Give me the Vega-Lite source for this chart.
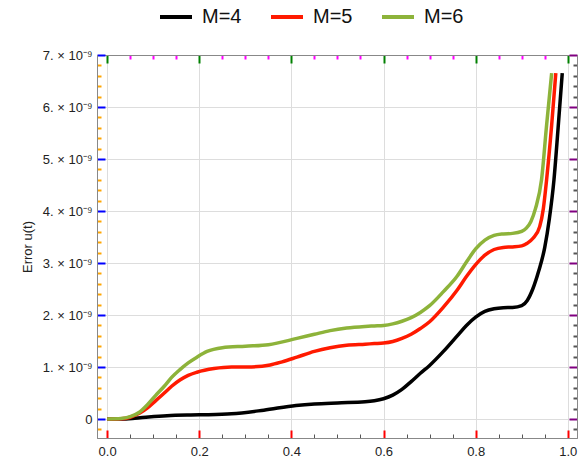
{
  "$schema": "https://vega.github.io/schema/vega-lite/v6.json",
  "autosize": "none",
  "width": 480,
  "height": 383,
  "padding": {"left": 97, "top": 55, "right": 4, "bottom": 24},
  "background": "white",
  "data": {"values": [
    {"M": "M=4", "t": 0.0, "v": 0},
    {"M": "M=4", "t": 0.03, "v": 0.0},
    {"M": "M=4", "t": 0.06, "v": 0.015e-9},
    {"M": "M=4", "t": 0.09, "v": 0.04e-9},
    {"M": "M=4", "t": 0.13, "v": 0.065e-9},
    {"M": "M=4", "t": 0.2, "v": 0.08e-9},
    {"M": "M=4", "t": 0.27, "v": 0.1e-9},
    {"M": "M=4", "t": 0.34, "v": 0.17e-9},
    {"M": "M=4", "t": 0.41, "v": 0.26e-9},
    {"M": "M=4", "t": 0.45, "v": 0.29e-9},
    {"M": "M=4", "t": 0.5, "v": 0.31e-9},
    {"M": "M=4", "t": 0.56, "v": 0.33e-9},
    {"M": "M=4", "t": 0.58, "v": 0.35e-9},
    {"M": "M=4", "t": 0.6, "v": 0.39e-9},
    {"M": "M=4", "t": 0.62, "v": 0.46e-9},
    {"M": "M=4", "t": 0.64, "v": 0.57e-9},
    {"M": "M=4", "t": 0.66, "v": 0.72e-9},
    {"M": "M=4", "t": 0.68, "v": 0.88e-9},
    {"M": "M=4", "t": 0.7, "v": 1.03e-9},
    {"M": "M=4", "t": 0.73, "v": 1.3e-9},
    {"M": "M=4", "t": 0.76, "v": 1.6e-9},
    {"M": "M=4", "t": 0.78, "v": 1.8e-9},
    {"M": "M=4", "t": 0.8, "v": 1.96e-9},
    {"M": "M=4", "t": 0.82, "v": 2.07e-9},
    {"M": "M=4", "t": 0.84, "v": 2.12e-9},
    {"M": "M=4", "t": 0.86, "v": 2.14e-9},
    {"M": "M=4", "t": 0.88, "v": 2.145e-9},
    {"M": "M=4", "t": 0.9, "v": 2.18e-9},
    {"M": "M=4", "t": 0.912, "v": 2.28e-9},
    {"M": "M=4", "t": 0.924, "v": 2.5e-9},
    {"M": "M=4", "t": 0.937, "v": 2.85e-9},
    {"M": "M=4", "t": 0.95, "v": 3.3e-9},
    {"M": "M=4", "t": 0.96, "v": 3.85e-9},
    {"M": "M=4", "t": 0.97, "v": 4.6e-9},
    {"M": "M=4", "t": 0.979, "v": 5.6e-9},
    {"M": "M=4", "t": 0.988, "v": 6.65e-9},
    {"M": "M=5", "t": 0.0, "v": 0},
    {"M": "M=5", "t": 0.03, "v": 0.005e-9},
    {"M": "M=5", "t": 0.05, "v": 0.035e-9},
    {"M": "M=5", "t": 0.07, "v": 0.11e-9},
    {"M": "M=5", "t": 0.087, "v": 0.21e-9},
    {"M": "M=5", "t": 0.105, "v": 0.35e-9},
    {"M": "M=5", "t": 0.124, "v": 0.5e-9},
    {"M": "M=5", "t": 0.14, "v": 0.63e-9},
    {"M": "M=5", "t": 0.158, "v": 0.75e-9},
    {"M": "M=5", "t": 0.176, "v": 0.84e-9},
    {"M": "M=5", "t": 0.195, "v": 0.9e-9},
    {"M": "M=5", "t": 0.232, "v": 0.97e-9},
    {"M": "M=5", "t": 0.27, "v": 1.0e-9},
    {"M": "M=5", "t": 0.304, "v": 1.0e-9},
    {"M": "M=5", "t": 0.354, "v": 1.04e-9},
    {"M": "M=5", "t": 0.38, "v": 1.1e-9},
    {"M": "M=5", "t": 0.412, "v": 1.19e-9},
    {"M": "M=5", "t": 0.45, "v": 1.3e-9},
    {"M": "M=5", "t": 0.484, "v": 1.37e-9},
    {"M": "M=5", "t": 0.52, "v": 1.42e-9},
    {"M": "M=5", "t": 0.56, "v": 1.44e-9},
    {"M": "M=5", "t": 0.58, "v": 1.45e-9},
    {"M": "M=5", "t": 0.6, "v": 1.46e-9},
    {"M": "M=5", "t": 0.62, "v": 1.49e-9},
    {"M": "M=5", "t": 0.64, "v": 1.55e-9},
    {"M": "M=5", "t": 0.66, "v": 1.63e-9},
    {"M": "M=5", "t": 0.68, "v": 1.74e-9},
    {"M": "M=5", "t": 0.7, "v": 1.87e-9},
    {"M": "M=5", "t": 0.73, "v": 2.15e-9},
    {"M": "M=5", "t": 0.76, "v": 2.48e-9},
    {"M": "M=5", "t": 0.78, "v": 2.74e-9},
    {"M": "M=5", "t": 0.8, "v": 2.97e-9},
    {"M": "M=5", "t": 0.82, "v": 3.15e-9},
    {"M": "M=5", "t": 0.84, "v": 3.26e-9},
    {"M": "M=5", "t": 0.86, "v": 3.3e-9},
    {"M": "M=5", "t": 0.88, "v": 3.31e-9},
    {"M": "M=5", "t": 0.9, "v": 3.33e-9},
    {"M": "M=5", "t": 0.912, "v": 3.38e-9},
    {"M": "M=5", "t": 0.925, "v": 3.48e-9},
    {"M": "M=5", "t": 0.939, "v": 3.7e-9},
    {"M": "M=5", "t": 0.947, "v": 4.05e-9},
    {"M": "M=5", "t": 0.954, "v": 4.6e-9},
    {"M": "M=5", "t": 0.965, "v": 5.65e-9},
    {"M": "M=5", "t": 0.974, "v": 6.65e-9},
    {"M": "M=6", "t": 0.0, "v": 0},
    {"M": "M=6", "t": 0.03, "v": 0.008e-9},
    {"M": "M=6", "t": 0.05, "v": 0.045e-9},
    {"M": "M=6", "t": 0.07, "v": 0.13e-9},
    {"M": "M=6", "t": 0.087, "v": 0.27e-9},
    {"M": "M=6", "t": 0.105, "v": 0.45e-9},
    {"M": "M=6", "t": 0.124, "v": 0.63e-9},
    {"M": "M=6", "t": 0.14, "v": 0.8e-9},
    {"M": "M=6", "t": 0.158, "v": 0.95e-9},
    {"M": "M=6", "t": 0.176, "v": 1.08e-9},
    {"M": "M=6", "t": 0.195, "v": 1.19e-9},
    {"M": "M=6", "t": 0.217, "v": 1.3e-9},
    {"M": "M=6", "t": 0.25, "v": 1.37e-9},
    {"M": "M=6", "t": 0.3, "v": 1.4e-9},
    {"M": "M=6", "t": 0.35, "v": 1.43e-9},
    {"M": "M=6", "t": 0.412, "v": 1.55e-9},
    {"M": "M=6", "t": 0.45, "v": 1.63e-9},
    {"M": "M=6", "t": 0.484, "v": 1.7e-9},
    {"M": "M=6", "t": 0.52, "v": 1.75e-9},
    {"M": "M=6", "t": 0.56, "v": 1.78e-9},
    {"M": "M=6", "t": 0.58, "v": 1.79e-9},
    {"M": "M=6", "t": 0.6, "v": 1.8e-9},
    {"M": "M=6", "t": 0.62, "v": 1.83e-9},
    {"M": "M=6", "t": 0.64, "v": 1.88e-9},
    {"M": "M=6", "t": 0.66, "v": 1.95e-9},
    {"M": "M=6", "t": 0.68, "v": 2.05e-9},
    {"M": "M=6", "t": 0.7, "v": 2.18e-9},
    {"M": "M=6", "t": 0.73, "v": 2.45e-9},
    {"M": "M=6", "t": 0.76, "v": 2.75e-9},
    {"M": "M=6", "t": 0.78, "v": 3.02e-9},
    {"M": "M=6", "t": 0.8, "v": 3.27e-9},
    {"M": "M=6", "t": 0.82, "v": 3.44e-9},
    {"M": "M=6", "t": 0.84, "v": 3.53e-9},
    {"M": "M=6", "t": 0.86, "v": 3.56e-9},
    {"M": "M=6", "t": 0.88, "v": 3.57e-9},
    {"M": "M=6", "t": 0.9, "v": 3.61e-9},
    {"M": "M=6", "t": 0.91, "v": 3.67e-9},
    {"M": "M=6", "t": 0.92, "v": 3.8e-9},
    {"M": "M=6", "t": 0.93, "v": 4.05e-9},
    {"M": "M=6", "t": 0.943, "v": 4.6e-9},
    {"M": "M=6", "t": 0.954, "v": 5.65e-9},
    {"M": "M=6", "t": 0.965, "v": 6.65e-9}
  ]},
  "layer": [
    {
      "mark": {"type": "line", "strokeWidth": 3.5, "interpolate": "monotone"},
      "encoding": {
        "x": {"field": "t", "type": "quantitative",
          "scale": {"domain": [-0.022, 1.02], "nice": false, "zero": false},
          "axis": {"orient": "bottom", "title": null, "values": [0,0.2,0.4,0.6,0.8,1.0], "format": ".1f",
            "tickSize": -8, "tickColor": "red", "tickWidth": 2,
            "labelPadding": 15, "labelFont": "Liberation Sans", "labelFontSize": 13, "labelColor": "#222"}},
        "y": {"field": "v", "type": "quantitative",
          "scale": {"domain": [-0.365e-9, 7e-9], "nice": false, "zero": false},
          "axis": {"orient": "left", "title": "Error u(t)", "titlePadding": 8,
            "titleFont": "Liberation Sans", "titleFontSize": 13, "titleFontWeight": "normal", "titleColor": "#222",
            "values": [0,1e-9,2e-9,3e-9,4e-9,5e-9,6e-9,7e-9],
            "labelExpr": "abs(datum.value)<1e-12 ? '0' : format(datum.value*1e9,'d') + '. × 10⁻⁹'",
            "tickSize": -8, "tickColor": "blue", "tickWidth": 2,
            "labelPadding": 13, "labelFont": "Liberation Sans", "labelFontSize": 13, "labelColor": "#222"}},
        "color": {"field": "M", "type": "nominal",
          "scale": {"domain": ["M=4", "M=5", "M=6"], "range": ["#000000", "#ff1a00", "#8db33a"]},
          "legend": {"orient": "none", "legendX": 61, "legendY": -56, "direction": "horizontal", "title": null,
            "symbolType": "stroke", "symbolSize": 1024, "symbolStrokeWidth": 4, "labelOffset": 8, "columnPadding": 21, "padding": 0,
            "labelFont": "Liberation Sans", "labelFontSize": 20, "labelColor": "#111"}}
      }
    },
    {
      "mark": {"type": "line", "opacity": 0},
      "encoding": {
        "x": {"field": "t", "type": "quantitative",
          "axis": {"orient": "bottom", "title": null, "labels": false, "tickSize": -4, "tickColor": "#555", "tickWidth": 1,
            "values": [0.05,0.1,0.15,0.25,0.3,0.35,0.45,0.5,0.55,0.65,0.7,0.75,0.85,0.9,0.95]}},
        "y": {"field": "v", "type": "quantitative",
          "axis": {"orient": "left", "title": null, "labels": false, "grid": false, "tickSize": -4, "tickColor": "orange", "tickWidth": 2,
            "values": [-0.2e-9,0.2e-9,0.4e-9,0.6e-9,0.8e-9,1.2e-9,1.4e-9,1.6e-9,1.8e-9,2.2e-9,2.4e-9,2.6e-9,2.8e-9,3.2e-9,3.4e-9,3.6e-9,3.8e-9,4.2e-9,4.4e-9,4.6e-9,4.8e-9,5.2e-9,5.4e-9,5.6e-9,5.8e-9,6.2e-9,6.4e-9,6.6e-9,6.8e-9]}}
      }
    },
    {
      "mark": {"type": "line", "opacity": 0},
      "encoding": {
        "x": {"field": "t", "type": "quantitative",
          "axis": {"orient": "top", "title": null, "labels": false, "gridOpacity": 0, "tickSize": -8, "tickColor": "green", "tickWidth": 2,
            "values": [0,0.2,0.4,0.6,0.8,1.0]}},
        "y": {"field": "v", "type": "quantitative",
          "axis": {"orient": "right", "title": null, "labels": false, "domain": false, "tickSize": -8, "tickColor": "purple", "tickWidth": 2,
            "values": [0,1e-9,2e-9,3e-9,4e-9,5e-9,6e-9,7e-9]}}
      }
    },
    {
      "mark": {"type": "line", "opacity": 0},
      "encoding": {
        "x": {"field": "t", "type": "quantitative",
          "axis": {"orient": "top", "title": null, "labels": false, "tickSize": -4, "tickColor": "magenta", "tickWidth": 2,
            "values": [0.05,0.1,0.15,0.25,0.3,0.35,0.45,0.5,0.55,0.65,0.7,0.75,0.85,0.9,0.95]}},
        "y": {"field": "v", "type": "quantitative",
          "axis": {"orient": "right", "title": null, "labels": false, "tickSize": -4, "tickColor": "#555", "tickWidth": 2,
            "values": [-0.2e-9,0.2e-9,0.4e-9,0.6e-9,0.8e-9,1.2e-9,1.4e-9,1.6e-9,1.8e-9,2.2e-9,2.4e-9,2.6e-9,2.8e-9,3.2e-9,3.4e-9,3.6e-9,3.8e-9,4.2e-9,4.4e-9,4.6e-9,4.8e-9,5.2e-9,5.4e-9,5.6e-9,5.8e-9,6.2e-9,6.4e-9,6.6e-9,6.8e-9]}}
      }
    }
  ],
  "resolve": {"axis": {"x": "independent", "y": "independent"}}
}
